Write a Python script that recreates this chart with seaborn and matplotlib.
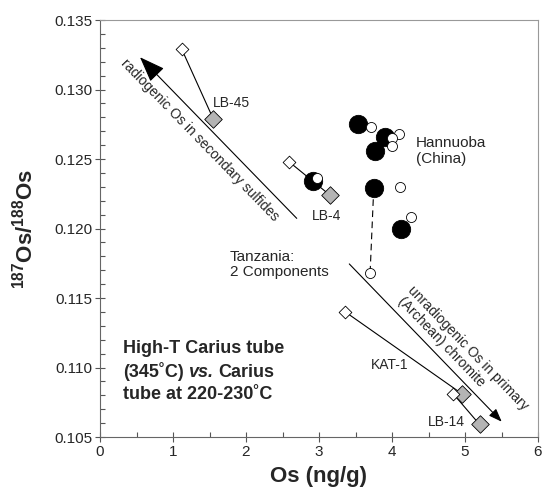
import matplotlib
matplotlib.use("Agg")
import matplotlib.pyplot as plt
import seaborn as sns
import numpy as np
from matplotlib.ticker import MultipleLocator, FormatStrFormatter
from matplotlib.offsetbox import TextArea, HPacker, VPacker, AnnotationBbox

# ---------------- data ----------------
# Hannuoba (China) + LB-4 : large black circles (one Carius-tube run)
black_x = [3.54, 3.90, 3.77, 3.75, 4.13, 2.92]
black_y = [0.1275, 0.1266, 0.1256, 0.1229, 0.1200, 0.1234]
# small open circles (other run)
white_x = [3.71, 4.09, 4.00, 4.00, 4.11, 4.26, 3.70, 2.97]
white_y = [0.1273, 0.1268, 0.1265, 0.1259, 0.1230, 0.1208, 0.1168, 0.1236]

# Tanzania pairs: open diamond (220-230 C) -> grey diamond (345 C)
samples = ["LB-45", "LB-4", "KAT-1", "LB-14"]
open_x = [1.12, 2.59, 3.36, 4.84]
open_y = [0.1329, 0.1248, 0.1140, 0.1081]
grey_x = [1.55, 3.15, 4.96, 5.20]
grey_y = [0.1279, 0.1224, 0.1081, 0.1059]

# dashed tie (Tanzania 2 components)
dash_x = [3.75, 3.70]
dash_y = [0.1229, 0.1168]

x_ticks = [0, 1, 2, 3, 4, 5, 6]
y_ticks = [0.105, 0.110, 0.115, 0.120, 0.125, 0.130, 0.135]

# ---------------- style ----------------
sns.set_theme(style="ticks")
plt.rcParams["font.family"] = ["Liberation Sans", "DejaVu Sans"]
plt.rcParams["mathtext.fontset"] = "custom"
plt.rcParams["mathtext.rm"] = "Liberation Sans"
plt.rcParams["mathtext.bf"] = "Liberation Sans:bold"

fig = plt.figure(figsize=(5.46, 4.92), dpi=100)
ax = fig.add_axes([100/546, 1-437/492, 438/546, 417/492])

# tie lines between pairs
for i in range(len(samples)):
    ax.plot([open_x[i], grey_x[i]], [open_y[i], grey_y[i]], color="black", lw=0.8, zorder=1)
ax.plot(dash_x, dash_y, color="black", lw=0.8, ls=(0, (6, 4)), zorder=1)

sns.scatterplot(x=grey_x, y=grey_y, marker="D", s=80, color="#b4b4b4",
                edgecolor="black", linewidth=0.6, ax=ax, zorder=3)
sns.scatterplot(x=open_x, y=open_y, marker="D", s=42, color="white",
                edgecolor="black", linewidth=0.6, ax=ax, zorder=4)
sns.scatterplot(x=black_x, y=black_y, marker="o", s=175, color="black",
                edgecolor="black", linewidth=0.6, ax=ax, zorder=3)
sns.scatterplot(x=white_x, y=white_y, marker="o", s=52, color="white",
                edgecolor="black", linewidth=0.6, ax=ax, zorder=4)

# arrows
ax.annotate("", xy=(0.548, 0.13232), xytext=(2.695, 0.12073),
            arrowprops=dict(arrowstyle="-|>,head_length=1.6,head_width=0.6",
                            mutation_scale=10, lw=0.8, color="black",
                            shrinkA=0, shrinkB=0), zorder=2)
ax.annotate("", xy=(5.503, 0.10610), xytext=(3.415, 0.11745),
            arrowprops=dict(arrowstyle="-|>,head_length=0.8,head_width=0.3",
                            mutation_scale=10, lw=0.8, color="black",
                            shrinkA=0, shrinkB=0), zorder=2)

ax.text(1.37, 0.12640, "radiogenic Os in secondary sulfides", rotation=-45.8,
        rotation_mode="anchor", ha="center", va="center", fontsize=10)
ax.text(4.97, 0.11100, "unradiogenic Os in primary\n(Archean) chromite", rotation=-46,
        rotation_mode="anchor", ha="center", va="center", multialignment="left",
        fontsize=10, linespacing=1.05)

# labels
lab_pos = {"LB-45": (1.80, 0.12901), "LB-4": (3.10, 0.1209),
           "KAT-1": (3.97, 0.11018), "LB-14": (4.75, 0.10610)}
for s in samples:
    ax.text(*lab_pos[s], s, ha="center", va="center", fontsize=10)
ax.text(4.33, 0.12558, "Hannuoba\n(China)", ha="left", va="center", fontsize=11, linespacing=1.15)
ax.text(1.78, 0.11740, "Tanzania:\n2 Components", ha="left", va="center", fontsize=11, linespacing=1.05)

# bold annotation box
fb = dict(fontsize=13, fontweight="bold")
l1 = TextArea("High-T Carius tube", textprops=fb)
l2 = HPacker(children=[TextArea("(345˚C)", textprops=fb),
                       TextArea("vs.", textprops=dict(fontsize=13, fontweight="bold", fontstyle="italic")),
                       TextArea("Carius", textprops=fb)], sep=3.6, pad=0, align="baseline")
l3 = TextArea("tube at 220-230˚C", textprops=fb)
box = VPacker(children=[l1, l2, l3], sep=3.5, pad=0, align="left")
ab = AnnotationBbox(box, ((122.7-100)/438, (437-340)/417), xycoords="axes fraction",
                    box_alignment=(0, 1), frameon=False, pad=0)
ax.add_artist(ab)

# axes
ax.set_xlim(0, 6)
ax.set_ylim(0.105, 0.135)
ax.set_xticks(x_ticks)
ax.set_yticks(y_ticks)
ax.xaxis.set_minor_locator(MultipleLocator(0.5))
ax.yaxis.set_minor_locator(MultipleLocator(0.001))
ax.yaxis.set_major_formatter(FormatStrFormatter("%.3f"))
ax.tick_params(which="major", direction="inout", length=7, width=0.8, labelsize=11,
               color="#555555", pad=2, top=False, right=False)
ax.tick_params(which="minor", direction="in", length=3.5, width=0.8, color="#555555",
               top=False, right=False)
for side in ["left", "bottom"]:
    ax.spines[side].set_color("#666666")
    ax.spines[side].set_linewidth(0.8)
for side in ["top", "right"]:
    ax.spines[side].set_visible(True)
    ax.spines[side].set_color("#999999")
    ax.spines[side].set_linewidth(0.8)

ax.set_xlabel("Os (ng/g)", fontsize=16, fontweight="bold", labelpad=5)
ax.set_ylabel(r"$\mathbf{^{187}Os/^{188}Os}$", fontsize=16, labelpad=12)

fig.savefig("out.png", dpi=100)
